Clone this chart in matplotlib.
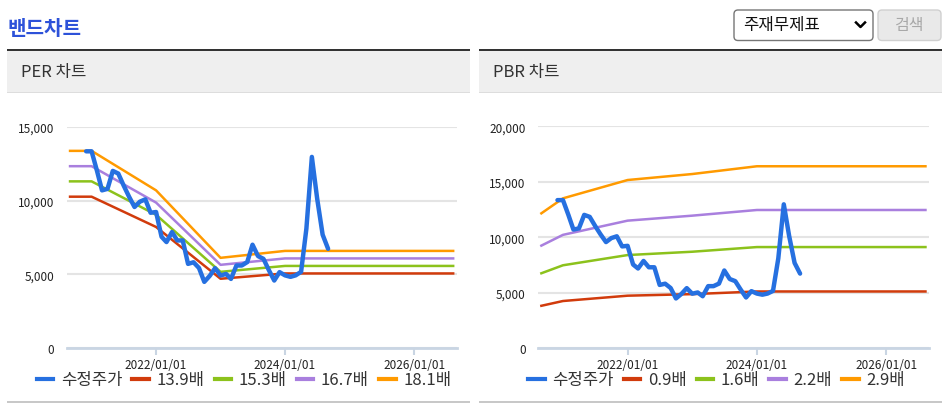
import matplotlib.pyplot as plt
import matplotlib.dates as mdates
import numpy as np
import pandas as pd
from matplotlib.lines import Line2D
from matplotlib.patches import FancyBboxPatch, Rectangle
from matplotlib.ticker import FuncFormatter

plt.rcParams['font.family'] = ['Noto Sans CJK KR', 'DejaVu Sans']

# monthly adjusted price (수정주가)
price_dates = pd.date_range('2020-12-01', periods=46, freq='MS')
price = [13350, 13350, 12000, 10700, 10800, 12020, 11840, 11040, 10270, 9570,
         9930, 10090, 9180, 9230, 7550, 7190, 7870, 7300, 7300, 5710,
         5820, 5430, 4490, 4900, 5420, 4920, 5030, 4690, 5600, 5600,
         5830, 7010, 6240, 6050, 5300, 4580, 5150, 4930, 4830, 4930,
         5170, 8100, 12970, 10140, 7690, 6730]

band_dates = pd.to_datetime(['2020-09-01', '2021-01-01', '2022-01-01',
                             '2023-01-01', '2024-01-01', '2026-08-10'])

per_labels = ['13.9배', '15.3배', '16.7배', '18.1배']
per_139 = [10270, 10270, 8215, 4700, 5060, 5060]
per_153 = [11310, 11310, 9040, 5170, 5570, 5570]
per_167 = [12340, 12340, 9870, 5645, 6080, 6080]
per_181 = [13380, 13380, 10700, 6120, 6590, 6590]

pbr_labels = ['0.9배', '1.6배', '2.2배', '2.9배']
pbr_09 = [3830, 4260, 4740, 4880, 5120, 5120]
pbr_16 = [6760, 7480, 8400, 8700, 9120, 9120]
pbr_22 = [9250, 10220, 11500, 11950, 12460, 12460]
pbr_29 = [12160, 13510, 15160, 15700, 16400, 16400]

x_ticks = pd.to_datetime(['2022-01-01', '2024-01-01', '2026-01-01'])
x_min, x_max = pd.Timestamp('2020-08-13'), pd.Timestamp('2026-08-30')

price_color = '#2670e0'
band_colors = ['#d13b0c', '#8cc21c', '#a97fde', '#ff9a00']

W, H = 948, 410
fig = plt.figure(figsize=(W / 100, H / 100), dpi=100)
inch = fig.dpi_scale_trans


def rect(x, y, w, h, **kw):
    # pixel box measured from the top-left corner
    fig.add_artist(Rectangle((x / 100, (H - y - h) / 100), w / 100, h / 100,
                             transform=inch, lw=0, **kw))


def text(x, y, s, **kw):
    fig.text(x / 100, (H - y) / 100, s, transform=inch, va='center', **kw)


# page header
text(8, 29, '밴드차트', fontsize=14.5, fontweight='bold', color='#2d52d9')

fig.add_artist(FancyBboxPatch((734 / 100, (H - 41.5) / 100), 139 / 100, 30.5 / 100,
                              boxstyle='round,pad=0,rounding_size=0.04',
                              transform=inch, fc='white', ec='#767676', lw=1))
text(743, 26, '주재무제표', fontsize=12, color='#111')
fig.add_artist(Line2D([856 / 100, 860.5 / 100, 865 / 100],
                      [(H - 23.5) / 100, (H - 28) / 100, (H - 23.5) / 100],
                      transform=inch, color='black', lw=1.8))
fig.add_artist(FancyBboxPatch((878 / 100, (H - 41.5) / 100), 63 / 100, 30.5 / 100,
                              boxstyle='round,pad=0,rounding_size=0.04',
                              transform=inch, fc='#e9e9e9', ec='#d0d0d0', lw=1))
text(909.5, 26, '검색', fontsize=11.5, color='#a8a8a8', ha='center')

# panel frames
for left, right, name in [(7, 470, 'PER 차트'), (479, 942, 'PBR 차트')]:
    rect(left, 50, right - left, 2, color='#333333')
    rect(left, 52, right - left, 41, color='#efefef')
    rect(left, 93, right - left, 1, color='#dddddd')
    rect(left, 402, right - left, 2, color='#c8c8c8')
    text(left + 14, 73, name, fontsize=12, color='#333333')


def draw_chart(ax, bands, labels, ymax):
    for vals, color in zip(bands, band_colors):
        ax.plot(band_dates, vals, color=color, lw=1.8, solid_joinstyle='round')
    ax.plot(price_dates, price, color=price_color, lw=3.2,
            solid_joinstyle='round', solid_capstyle='round')

    ax.set_ylim(0, ymax)
    ax.set_yticks(np.arange(0, ymax + 1, 5000))
    ax.yaxis.set_major_formatter(FuncFormatter(lambda v, p: f'{v:,.0f}'))
    ax.set_xlim(x_min, x_max)
    ax.set_xticks(x_ticks)
    ax.xaxis.set_major_formatter(mdates.DateFormatter('%Y/%m/%d'))

    ax.grid(axis='y', color='#e4e4e4', lw=1.5)
    ax.set_axisbelow(True)
    for side in ['top', 'right', 'left']:
        ax.spines[side].set_visible(False)
    ax.spines['bottom'].set_color('#c9d5e3')
    ax.spines['bottom'].set_linewidth(2)
    ax.tick_params(axis='y', length=0, pad=9, labelsize=8.5, labelcolor='#222222')
    ax.tick_params(axis='x', length=5, width=1.5, color='#c9d5e3', pad=2,
                   labelsize=8.5, labelcolor='#222222')

    handles = [Line2D([], [], color=price_color, lw=3)]
    handles += [Line2D([], [], color=c, lw=3) for c in band_colors]
    return handles, ['수정주가'] + labels


ax1 = fig.add_axes([66.7 / W, 1 - 349 / H, 390 / W, 221 / H])
h1, l1 = draw_chart(ax1, [per_139, per_153, per_167, per_181], per_labels, 15000)

ax2 = fig.add_axes([538 / W, 1 - 349.3 / H, 391 / W, 222 / H])
h2, l2 = draw_chart(ax2, [pbr_09, pbr_16, pbr_22, pbr_29], pbr_labels, 20000)

for handles, labels, cx in [(h1, l1, 244), (h2, l2, 716.5)]:
    fig.legend(handles, labels, loc='center', bbox_to_anchor=(cx / W, 1 - 381 / H),
               ncol=5, frameon=False, fontsize=12, handlelength=1.0,
               handletextpad=0.45, columnspacing=0.6, labelcolor='#333333')

fig.savefig('out.png', dpi=100)
